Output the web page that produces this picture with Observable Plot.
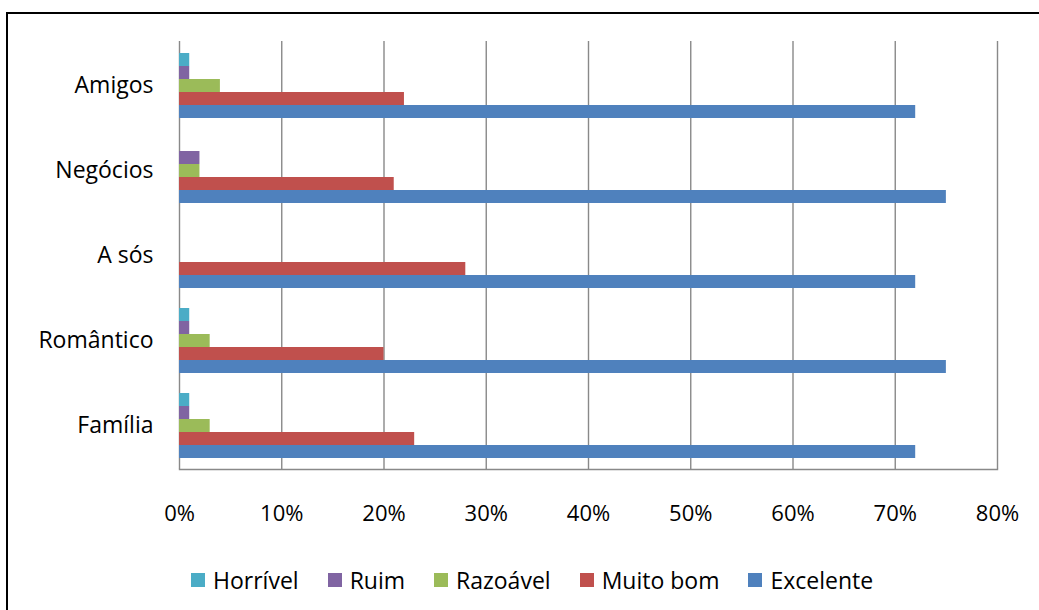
<!DOCTYPE html>
<html>
<head>
<meta charset="utf-8">
<script src="https://cdn.jsdelivr.net/npm/d3@7"></script>
<script src="https://cdn.jsdelivr.net/npm/@observablehq/plot@0.6"></script>
<style>
  html, body { margin: 0; padding: 0; background: #fff; }
  #wrap { position: relative; width: 1039px; height: 610px; overflow: hidden; font-family: "Open Sans", sans-serif; }
  #border { position: absolute; left: 6px; top: 12px; width: 2000px; height: 2000px;
            border-left: 2px solid #000; border-top: 2px solid #000; }
  #chart { position: absolute; left: 0; top: 0; }
  #legend { position: absolute; left: 191px; top: 568px; height: 24px; display: flex; align-items: center;
            font-size: 23px; color: #000; line-height: 24px; }
  #legend .item { display: flex; align-items: center; margin-right: 29px; }
  #legend .sw { width: 14px; height: 14px; margin-right: 8px; }
</style>
</head>
<body>
<div id="wrap">
  <div id="border"></div>
  <div id="chart"></div>
  <div id="legend"></div>
</div>
<script>
// Occasions (top to bottom) and rating levels (top to bottom within a group)
const categories = ["Amigos", "Negócios", "A sós", "Romântico", "Família"];
const series = ["Horrível", "Ruim", "Razoável", "Muito bom", "Excelente"];

// Share of answers, in percent, per occasion (same order as categories)
const horrivel  = [1, 0, 0, 1, 1];
const ruim      = [1, 2, 0, 1, 1];
const razoavel  = [4, 2, 0, 3, 3];
const muitoBom  = [22, 21, 28, 20, 23];
const excelente = [72, 75, 72, 75, 72];

const xTicks = [0, 0.1, 0.2, 0.3, 0.4, 0.5, 0.6, 0.7, 0.8];
const colors = ["#4BACC6", "#8064A2", "#9BBB59", "#C0504D", "#4F81BD"];

const values = [horrivel, ruim, razoavel, muitoBom, excelente];
const rows = series.flatMap((s, j) =>
  categories.map((c, i) => ({category: c, series: s, value: values[j][i] / 100}))
);

// Each rating gets its own slice of the occasion band
const barH = 13;

const plot = Plot.plot({
  width: 1039,
  height: 545,
  marginTop: 41,
  marginLeft: 179,
  marginRight: 42,
  marginBottom: 76,
  style: {fontFamily: "Open Sans, sans-serif", fontSize: "22px", color: "#000", background: "transparent"},
  x: {domain: [0, 0.8]},
  y: {domain: categories, paddingInner: 0.24, paddingOuter: 0.12, align: 0.5},
  marks: [
    Plot.gridX(xTicks, {stroke: "#898989", strokeOpacity: 1, strokeWidth: 1.4}),
    Plot.frame({anchor: "bottom", stroke: "#898989", strokeWidth: 1.4}),
    ...series.map((s, j) =>
      Plot.barX(rows.filter(d => d.series === s), {
        x: "value",
        y: "category",
        fill: colors[j],
        insetTop: j * barH,
        insetBottom: (series.length - 1 - j) * barH
      })
    ),
    Plot.axisX(xTicks, {tickSize: 0, tickPadding: 36, tickFormat: d3.format(".0%"), fill: "#000", label: null, fontSize: 22}),
    Plot.axisY({tickSize: 0, tickPadding: 26, fill: "#000", label: null, fontSize: 23})
  ]
});
document.getElementById("chart").appendChild(plot);

const legend = d3.select("#legend");
series.forEach((s, j) => {
  const item = legend.append("div").attr("class", "item");
  item.append("div").attr("class", "sw").style("background", colors[j]);
  item.append("span").text(s);
});
</script>
</body>
</html>
